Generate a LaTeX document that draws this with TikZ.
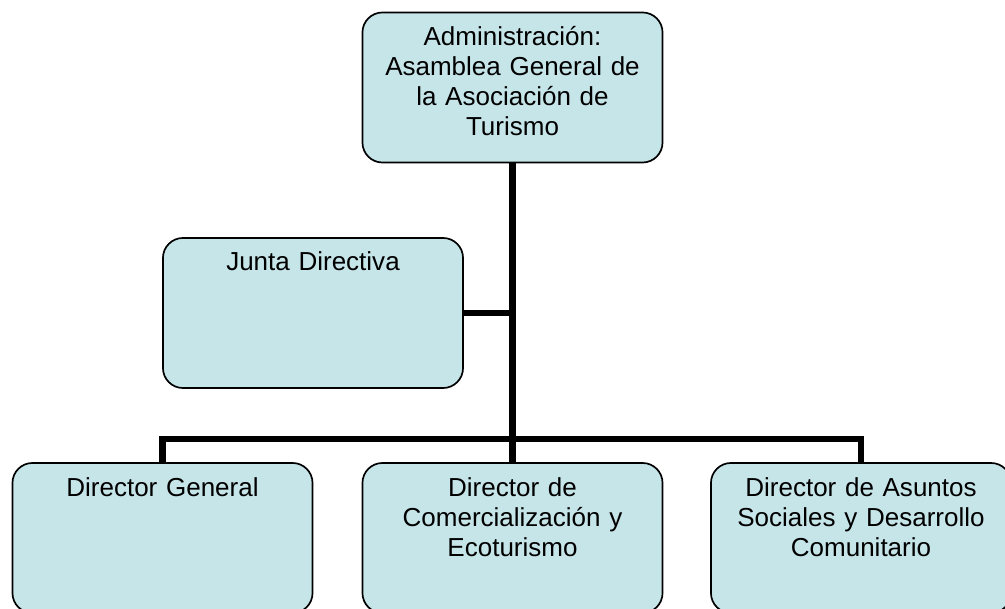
\documentclass[tikz,border=0pt]{standalone}
\usepackage{fontspec}
\setmainfont{Liberation Sans}
\usetikzlibrary{positioning}
\definecolor{cajafondo}{RGB}{198,229,233}

\begin{document}
\begin{tikzpicture}[
                x=0.025cm, y=-0.025cm, % 1 unidad = 1 px
                caja/.style={
                    draw, % borde
                    line width=1.2pt,
                    rounded corners=0.5cm,
                    fill=cajafondo,
                    minimum width=7.5cm,
                    minimum height=3.75cm,
                    inner sep=0
                },
                texto/.style={
                    anchor=north,
                    inner sep=0,
                    text width=7.3cm,
                    align=center,
                    font=\fontsize{18.5}{21.3}\selectfont,
                    execute at begin node=\strut
                },
                linea/.style={line width=4.3pt}
            ]
            \useasboundingbox (0,0) rectangle (1005,609);

            % cajas del organigrama
            \node[caja] (asamblea) at (512.5,87.5) {};
            \node[caja] (junta) at (313,313) {};
            \node[caja] (general) at (162.5,538) {};
            \node[caja] (comercial) at (512.5,538) {};
            \node[caja] (social) at (861,538) {};

            % textos de las cajas
            \node[texto, below=0.325cm of asamblea.north] (asambleatxt) {Administración:\\Asamblea General de\\la Asociación de\\Turismo};
            \node[texto, below=0.3cm of junta.north] (juntatxt) {Junta Directiva};
            \node[texto, below=0.325cm of general.north] (generaltxt) {Director General};
            \node[texto, below=0.325cm of comercial.north] (comercialtxt) {Director de\\Comercialización y\\Ecoturismo};
            \node[texto, below=0.325cm of social.north] (socialtxt) {Director de Asuntos\\Sociales y Desarrollo\\Comunitario};

            % conexiones
            \coordinate (bus) at (512.5,439);
            \draw[linea] (asamblea.south) -- (bus);
            \draw[linea] (junta.east) -- (junta.east -| asamblea.south);
            \draw[linea] (general.north) |- (bus) -| (social.north);
            \draw[linea] (bus) -- (comercial.north);
\end{tikzpicture}
\end{document}
